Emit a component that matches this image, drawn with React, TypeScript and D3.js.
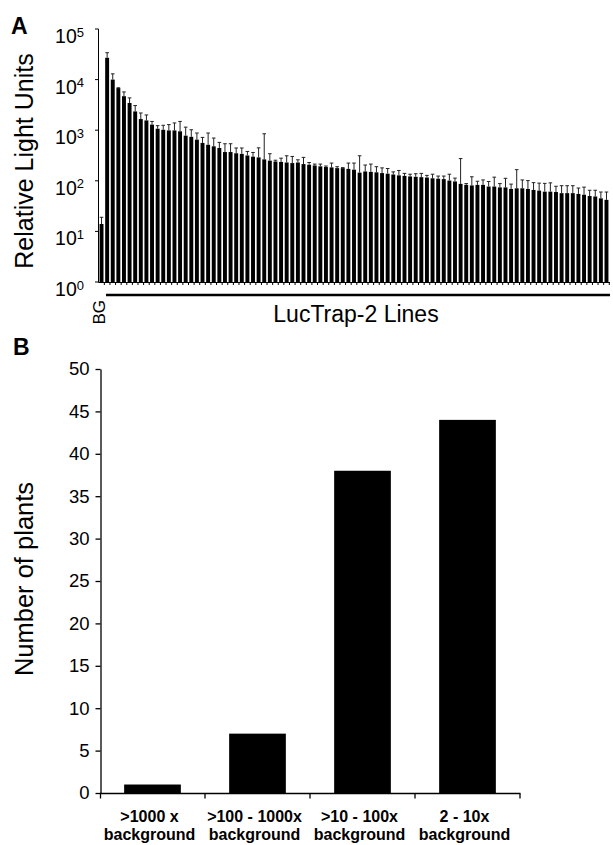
import React, { useEffect, useRef } from 'react';
import * as d3 from 'd3';

// Panel A: luciferase activity of LucTrap-2 lines (first bar = background)
const lucLines = d3.range(91).map((i) => (i === 0 ? 'BG' : `L${i}`));
const lucMeans = [
  14, 27000, 10000, 6800, 4700, 3450, 2350, 1660, 1560, 1290,
  1070, 1020, 990, 990, 950, 780, 740, 650, 560, 515,
  480, 445, 370, 370, 350, 340, 316, 300, 290, 265,
  250, 241, 236, 230, 224, 230, 214, 208, 201, 193,
  187, 184, 178, 178, 172, 166, 145, 153, 150, 147,
  142, 138, 133, 128, 125, 122, 120, 118, 116, 112,
  110, 108, 101, 97, 87, 83, 81, 83, 83, 77,
  77, 74, 74, 69, 71, 71, 69, 66, 64, 61,
  61, 60, 57, 57, 57, 55, 53, 50, 49, 45,
  42,
];
const lucUpper = [
  19, 34000, 13000, 6900, 5700, 4350, 3070, 2190, 2000, 1490,
  1230, 1250, 1290, 1390, 1490, 1150, 1020, 880, 720, 880,
  700, 575, 540, 540, 445, 445, 380, 363, 448, 850,
  343, 255, 280, 312, 303, 260, 290, 230, 214, 214,
  196, 224, 190, 182, 224, 224, 312, 205, 214, 190,
  180, 175, 150, 160, 140, 135, 138, 140, 128, 135,
  124, 124, 135, 113, 275, 88, 120, 98, 104, 97,
  118, 88, 112, 86, 166, 104, 101, 92, 90, 89,
  91, 78, 80, 80, 80, 72, 75, 65, 65, 60,
  60,
];
const logTicks = [1, 10, 100, 1000, 10000, 100000];

// Panel B: number of plants per activity class
const classLine1 = ['>1000 x', '>100 - 1000x', '>10 - 100x', '2 - 10x'];
const classLine2 = ['background', 'background', 'background', 'background'];
const plantCounts = [1, 7, 38, 44];
const countTicks = [0, 5, 10, 15, 20, 25, 30, 35, 40, 45, 50];

const FONT = '"Liberation Sans", Arial, Helvetica, sans-serif';

const App = () => {
  const ref = useRef<SVGSVGElement>(null);

  useEffect(() => {
    const svg = d3.select(ref.current);
    svg.selectAll('*').remove();
    svg.attr('font-family', FONT);

    // ---------- Panel A ----------
    const a = svg.append('g');
    const xA = d3.scaleBand().domain(lucLines).range([99, 609]).paddingInner(0.3).paddingOuter(0.1);
    const yA = d3.scaleLog().domain([1, 100000]).range([282, 29]);

    a.append('text').attr('x', 11).attr('y', 34).attr('font-size', 23).attr('font-weight', 'bold').text('A');

    a.selectAll('rect.bar')
      .data(lucMeans)
      .enter()
      .append('rect')
      .attr('x', (d, i) => xA(lucLines[i]))
      .attr('y', (d) => yA(d))
      .attr('width', xA.bandwidth())
      .attr('height', (d) => yA(1) - yA(d))
      .attr('fill', '#000');

    const err = a.append('g').attr('stroke', '#222').attr('stroke-width', 1);
    lucUpper.forEach((u, i) => {
      const cx = xA(lucLines[i]) + xA.bandwidth() / 2;
      err.append('line').attr('x1', cx).attr('x2', cx).attr('y1', yA(lucMeans[i])).attr('y2', yA(u));
      err.append('line').attr('x1', cx - 1.8).attr('x2', cx + 1.8).attr('y1', yA(u)).attr('y2', yA(u));
    });

    // y axis
    a.append('line').attr('x1', 98.5).attr('x2', 98.5).attr('y1', 29).attr('y2', 282.5).attr('stroke', '#000');
    logTicks.forEach((t) => {
      const y = yA(t);
      a.append('line').attr('x1', 95).attr('x2', 98.5).attr('y1', y).attr('y2', y).attr('stroke', '#000');
      const txt = a.append('text').attr('x', 84).attr('y', y + 14).attr('text-anchor', 'end').attr('font-size', 19.5);
      txt.append('tspan').text('10');
      txt.append('tspan').attr('dy', -6.5).attr('font-size', 13).text(String(Math.round(Math.log10(t))));
    });

    // x axis with small ticks between bars
    a.append('line').attr('x1', 98.5).attr('x2', 610).attr('y1', 282.5).attr('y2', 282.5).attr('stroke', '#000');
    lucLines.forEach((l) => {
      const x = xA(l) + xA.bandwidth() + (xA.step() - xA.bandwidth()) / 2;
      a.append('line').attr('x1', x).attr('x2', x).attr('y1', 282.5).attr('y2', 285).attr('stroke', '#000');
    });

    a.append('line').attr('x1', 106).attr('x2', 610).attr('y1', 295).attr('y2', 295).attr('stroke', '#000').attr('stroke-width', 2.5);
    a.append('text').attr('x', 356).attr('y', 322).attr('text-anchor', 'middle').attr('font-size', 23).text('LucTrap-2 Lines');
    a.append('text')
      .attr('transform', `translate(${xA('BG') + xA.bandwidth() / 2 - 2},300) rotate(-90)`)
      .attr('text-anchor', 'end').attr('dy', '0.35em').attr('font-size', 17).text('BG');
    a.append('text')
      .attr('transform', 'translate(33,161) rotate(-90)')
      .attr('text-anchor', 'middle').attr('font-size', 25).text('Relative Light Units');

    // ---------- Panel B ----------
    const b = svg.append('g');
    const xB = d3.scaleBand().domain(classLine1).range([100, 520]).paddingInner(0.46).paddingOuter(0.23);
    const yB = d3.scaleLinear().domain([0, 50]).range([793, 369]);

    b.append('text').attr('x', 13).attr('y', 355).attr('font-size', 23).attr('font-weight', 'bold').text('B');

    b.selectAll('rect.bar')
      .data(plantCounts)
      .enter()
      .append('rect')
      .attr('x', (d, i) => xB(classLine1[i]))
      .attr('y', (d) => yB(d))
      .attr('width', xB.bandwidth())
      .attr('height', (d) => yB(0) - yB(d))
      .attr('fill', '#000');

    const yAxisB = b.append('g').attr('transform', 'translate(100.5,0)')
      .call(d3.axisLeft(yB).tickValues(countTicks).tickSize(5).tickPadding(6).tickSizeOuter(0));
    yAxisB.selectAll('text').attr('font-size', 18.5).attr('font-family', FONT).attr('fill', '#000');
    yAxisB.selectAll('line,path').attr('stroke', '#000').attr('stroke-width', 1.3);

    // x axis with ticks at category boundaries
    b.append('line').attr('x1', 100).attr('x2', 520.5).attr('y1', 793.5).attr('y2', 793.5).attr('stroke', '#000').attr('stroke-width', 1.3);
    const bounds = [100.5, ...classLine1.map((c) => xB(c) + xB.bandwidth() + (xB.step() - xB.bandwidth()) / 2)];
    bounds.forEach((x) => {
      b.append('line').attr('x1', x).attr('x2', x).attr('y1', 793.5).attr('y2', 798.5).attr('stroke', '#000').attr('stroke-width', 1.3);
    });

    classLine1.forEach((c, i) => {
      const cx = xB(c) + xB.bandwidth() / 2 - 3;
      b.append('text').attr('x', cx).attr('y', 822).attr('text-anchor', 'middle').attr('font-size', 16).attr('font-weight', 'bold').text(c);
      b.append('text').attr('x', cx).attr('y', 840).attr('text-anchor', 'middle').attr('font-size', 16).attr('font-weight', 'bold').text(classLine2[i]);
    });

    b.append('text')
      .attr('transform', 'translate(33,579) rotate(-90)')
      .attr('text-anchor', 'middle').attr('font-size', 25.5).text('Number of plants');
  }, []);

  return (
    <svg
      ref={ref}
      width={613}
      height={845}
      style={{ position: 'absolute', left: 0, top: 0, background: '#fff' }}
    />
  );
};

export default App;
